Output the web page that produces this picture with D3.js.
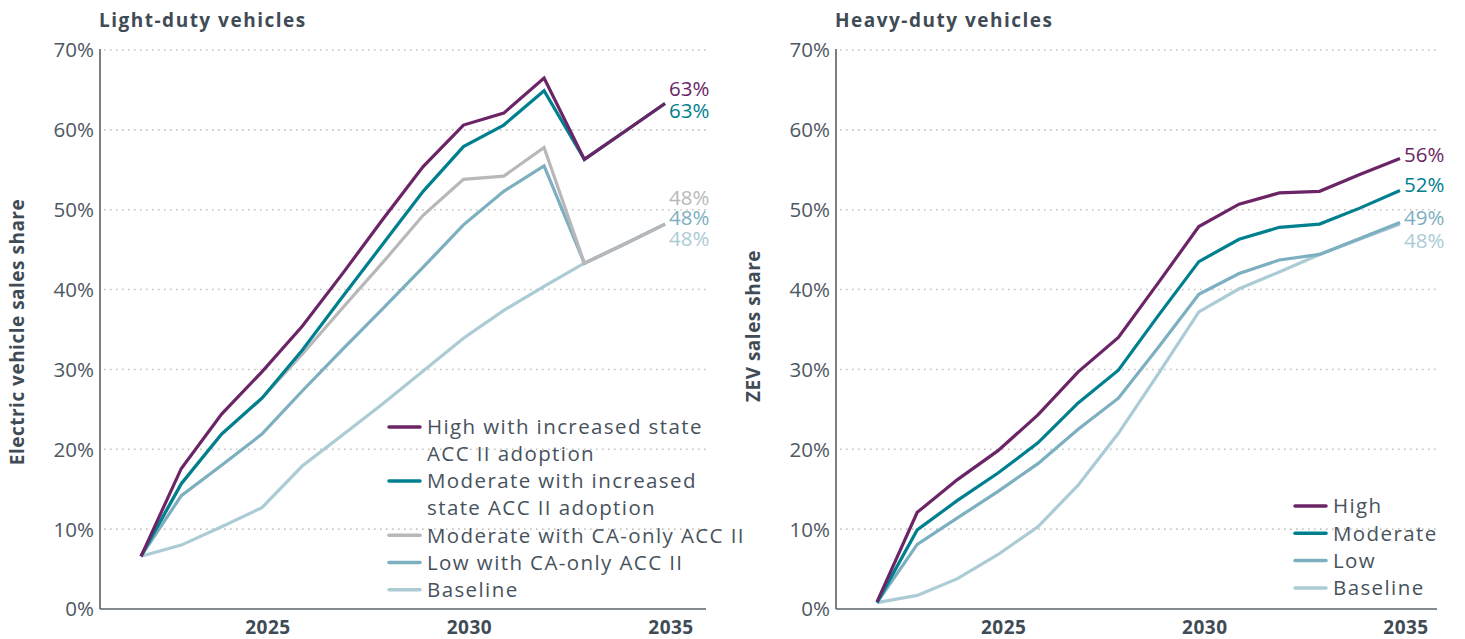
<!DOCTYPE html>
<html>
<head>
<meta charset="utf-8">
<script src="https://cdn.jsdelivr.net/npm/d3@7"></script>
<style>
  body { margin: 0; background: #fff; }
  svg { font-family: "Open Sans", sans-serif; }
</style>
</head>
<body>
<svg id="chart" width="1465" height="639"></svg>
<script>
// years on the x axis
const years = d3.range(2022, 2036);
const xTicks = [2025, 2030, 2035];
const yTicks = [0, 10, 20, 30, 40, 50, 60, 70];

// light-duty scenarios (% of sales)
const ldvHigh     = [6.6, 17.6, 24.4, 29.7, 35.4, 42.0, 48.8, 55.4, 60.6, 62.1, 66.5, 56.3, 59.8, 63.3];
const ldvModerate = [6.6, 15.7, 21.9, 26.4, 32.4, 39.1, 45.7, 52.3, 57.9, 60.6, 64.9, 56.3, 59.8, 63.3];
const ldvModCA    = [6.6, 15.7, 21.9, 26.4, 31.9, 37.7, 43.4, 49.3, 53.8, 54.2, 57.8, 43.3, 45.7, 48.2];
const ldvLowCA    = [6.6, 14.2, 18.0, 21.9, 27.3, 32.5, 37.6, 42.8, 48.1, 52.3, 55.5, 43.3, 45.7, 48.2];
const ldvBaseline = [6.6, 8.0, 10.3, 12.7, 17.9, 21.8, 25.7, 29.8, 33.9, 37.4, 40.4, 43.3, 45.7, 48.2];

const ldvNames = [
  ["High with increased state", "ACC II adoption"],
  ["Moderate with increased", "state ACC II adoption"],
  ["Moderate with CA-only ACC II"],
  ["Low with CA-only ACC II"],
  ["Baseline"]
];
const ldvEndLabels = ["63%", "63%", "48%", "48%", "48%"];

// heavy-duty scenarios (% of sales)
const hdvHigh     = [0.9, 12.1, 16.2, 19.8, 24.3, 29.7, 34.0, 40.9, 47.9, 50.7, 52.1, 52.3, 54.4, 56.4];
const hdvModerate = [0.8, 9.9, 13.6, 17.0, 20.8, 25.8, 29.9, 36.8, 43.5, 46.3, 47.8, 48.2, 50.2, 52.4];
const hdvLow      = [0.8, 8.1, 11.4, 14.7, 18.2, 22.5, 26.4, 32.8, 39.4, 42.0, 43.7, 44.4, 46.4, 48.4];
const hdvBaseline = [0.8, 1.7, 3.8, 6.8, 10.3, 15.5, 22.0, 29.5, 37.2, 40.1, 42.2, 44.4, 46.3, 48.2];

const hdvNames = [["High"], ["Moderate"], ["Low"], ["Baseline"]];
const hdvEndLabels = ["56%", "52%", "49%", "48%"];

const ldvColors = ["#6b2566", "#00808e", "#b8b8bb", "#7cafc0", "#abcbd5"];
const hdvColors = ["#6b2566", "#00808e", "#7cafc0", "#abcbd5"];

const textDark = "#3f4b55";
const svg = d3.select("#chart");

function drawPanel(p) {
  const x = d3.scaleLinear().domain([2022, 2035]).range([p.x0, p.x1]);
  const y = d3.scaleLinear().domain([0, 70]).range([609, 50]);
  const g = svg.append("g");

  // title
  g.append("text")
    .attr("x", p.axisX - 1).attr("y", 27)
    .attr("font-size", 19).attr("font-weight", 700)
    .attr("letter-spacing", 1.5)
    .attr("fill", textDark)
    .text(p.title);

  // y axis title
  g.append("text")
    .attr("transform", `translate(${p.yTitleX},${p.yTitleY}) rotate(-90)`)
    .attr("text-anchor", "middle")
    .attr("font-size", 19).attr("font-weight", 700)
    .attr("letter-spacing", 0.5)
    .attr("fill", textDark)
    .text(p.yTitle);

  // dotted gridlines
  g.selectAll(".grid")
    .data(yTicks.filter(d => d > 0))
    .join("line")
    .attr("x1", p.axisX + 4).attr("x2", p.gridEnd)
    .attr("y1", d => y(d)).attr("y2", d => y(d))
    .attr("stroke", "#c4c4c4").attr("stroke-width", 1.6)
    .attr("stroke-dasharray", "1.6,4.4");

  // y tick labels
  g.selectAll(".ytick")
    .data(yTicks)
    .join("text")
    .attr("x", p.axisX - 6).attr("y", d => y(d))
    .attr("dy", "0.36em")
    .attr("text-anchor", "end")
    .attr("font-size", 20.5)
    .attr("fill", "#4d5862")
    .text(d => d + "%");

  // axes lines
  g.append("line")
    .attr("x1", p.axisX).attr("x2", p.axisX)
    .attr("y1", 49).attr("y2", 609)
    .attr("stroke", "#58626a").attr("stroke-width", 1.6);
  g.append("line")
    .attr("x1", p.axisX).attr("x2", p.gridEnd)
    .attr("y1", 609).attr("y2", 609)
    .attr("stroke", "#58626a").attr("stroke-width", 1.6);

  // x tick labels
  g.selectAll(".xtick")
    .data(xTicks)
    .join("text")
    .attr("x", d => x(d) + 6).attr("y", 634)
    .attr("text-anchor", "middle")
    .attr("font-size", 19).attr("font-weight", 700)
    .attr("letter-spacing", 0.5)
    .attr("fill", textDark)
    .text(d => d);

  const line = d3.line()
    .x((d, i) => x(years[i]))
    .y(d => y(d));

  // draw from bottom series upward so the top ones sit on top
  const order = d3.range(p.series.length).reverse();
  order.forEach(i => {
    g.append("path")
      .datum(p.series[i])
      .attr("d", line)
      .attr("fill", "none")
      .attr("stroke", p.colors[i])
      .attr("stroke-width", 3.2)
      .attr("stroke-linejoin", "miter");
  });

  // end labels
  p.series.forEach((s, i) => {
    g.append("text")
      .attr("x", x(2035) + p.labelDx)
      .attr("y", y(s[s.length - 1]) + p.labelDy[i])
      .attr("dy", "0.36em")
      .attr("font-size", 20.5)
      .attr("fill", p.colors[i])
      .text(p.endLabels[i]);
  });

  // legend
  let ly = p.legendY;
  p.names.forEach((lines, i) => {
    g.append("line")
      .attr("x1", p.legendX).attr("x2", p.legendX + 31)
      .attr("y1", ly).attr("y2", ly)
      .attr("stroke", p.colors[i]).attr("stroke-width", 3.5)
      .attr("stroke-linecap", "round");
    lines.forEach((t, j) => {
      g.append("text")
        .attr("x", p.legendX + 38).attr("y", ly + j * 26.5)
        .attr("dy", "0.36em")
        .attr("font-size", 20.5).attr("fill", "#47525c")
        .attr("letter-spacing", 1.4)
        .text(t);
    });
    ly += lines.length * 26.8 + 0.5;
  });
}

drawPanel({
  title: "Light-duty vehicles",
  yTitle: "Electric vehicle sales share",
  yTitleX: 24, yTitleY: 332,
  axisX: 100, x0: 141, x1: 665, gridEnd: 706,
  series: [ldvHigh, ldvModerate, ldvModCA, ldvLowCA, ldvBaseline],
  colors: ldvColors,
  names: ldvNames,
  endLabels: ldvEndLabels,
  labelDx: 4,
  labelDy: [-15, 7.5, -26, -6, 15],
  legendX: 389, legendY: 427
});

drawPanel({
  title: "Heavy-duty vehicles",
  yTitle: "ZEV sales share",
  yTitleX: 760, yTitleY: 326,
  axisX: 836, x0: 877, x1: 1400, gridEnd: 1437,
  series: [hdvHigh, hdvModerate, hdvLow, hdvBaseline],
  colors: hdvColors,
  names: hdvNames,
  endLabels: hdvEndLabels,
  labelDx: 4,
  labelDy: [-3.6, -5.5, -4.5, 17],
  legendX: 1295, legendY: 506
});
</script>
</body>
</html>
